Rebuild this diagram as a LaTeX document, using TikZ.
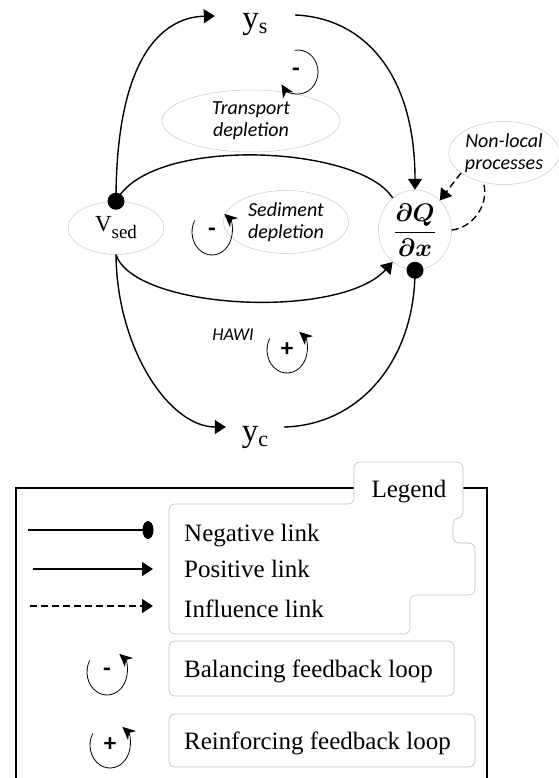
\documentclass[tikz,border=0pt]{standalone}
\usepackage{amsmath,bm,graphicx}
\usepackage{fontspec}
\setmainfont{Liberation Serif}
\newfontfamily\lblfont{Carlito}
\usetikzlibrary{arrows.meta,shapes.geometric}
\tikzset{
  bub/.style={ellipse, draw=black!22, line width=0.5pt, inner sep=0pt, align=center},
  lbltext/.style={font=\lblfont\itshape\fontsize{20}{22}\selectfont},
  link/.style={line width=1.4pt},
  poslink/.style={link, -{Triangle[length=11pt,width=14pt]}},
  infllink/.style={poslink, dash pattern=on 7pt off 4pt},
  dashlink/.style={link, dash pattern=on 7pt off 4pt},
  dotn/.style={circle, fill=black, inner sep=0pt, minimum size=17pt},
  loopline/.style={line width=0.8pt, -{Stealth[length=13pt,width=12pt,inset=4pt]}},
  sym/.style={font=\lblfont\bfseries\fontsize{25}{25}\selectfont, inner sep=0pt},
  legtext/.style={font=\fontsize{25}{28}\selectfont, inner sep=0pt},
  boxline/.style={draw=black!25, line width=0.6pt},
  frameline/.style={line width=1.3pt},
  loopccw/.pic={
    \draw[loopline] (-150:20 and 23) arc[start angle=-150, end angle=-412, x radius=20, y radius=23];
    \node[sym] (-s) at (0,0) {\tikzpictext};
  },
  loopcw/.pic={
    \draw[loopline] (-100:20 and 22) arc[start angle=-100, end angle=146, x radius=20, y radius=22];
    \node[sym] (-s) at (-2,0) {\tikzpictext};
  },
}
\begin{document}
\begin{tikzpicture}[x=1pt,y=-1pt]
\useasboundingbox (0,0) rectangle (558,778);
\clip (0,0) rectangle (558,778);

% variable nodes
\node[minimum width=80pt, font=\fontsize{33}{33}\selectfont, inner sep=0pt] (ys) at (255,24)
  {y\raisebox{-5pt}{\fontsize{22}{22}\selectfont s}};
\node[minimum width=58pt, font=\fontsize{33}{33}\selectfont, inner sep=0pt] (yc) at (255,437)
  {y\raisebox{-5pt}{\fontsize{22}{22}\selectfont c}};
\node[bub, minimum width=96pt, minimum height=53pt, font=\fontsize{23}{23}\selectfont] (vsed) at (116,228)
  {V\raisebox{-7pt}{\fontsize{19}{19}\selectfont sed}};
\node[bub, minimum width=73pt, minimum height=80pt] (dq) at (415,230)
  {\scalebox{1.22}{\fontsize{20}{20}\selectfont$\displaystyle\frac{\bm{\partial Q}}{\bm{\partial x}}$}};
\node[bub, lbltext, minimum width=101pt, minimum height=63pt] (nl) at (504,153) {Non-local\\processes};
\node[bub, lbltext, minimum width=178pt, minimum height=62pt] (tr) at (251,121) {Transport\\depletion};
\node[bub, lbltext, minimum width=125pt, minimum height=63pt] (sd) at (286,222) {Sediment\\depletion};
\node[lbltext, font=\lblfont\itshape\fontsize{18}{20}\selectfont] (hawi) at (233,335) {HAWI};

% links
\draw[poslink] (vsed.north) .. controls (116,45) and (170,17) .. ([yshift=8pt]ys.west);
\draw[poslink] ([yshift=9pt]ys.east) .. controls (365,18) and (415,75) .. (dq.north);
\draw[link] (dq.125) .. controls (360,145) and (150,135) .. (vsed.north);
\draw[poslink] (vsed.south) .. controls (135,310) and (340,320) .. (dq.235);
\draw[poslink] (vsed.south) .. controls (117,350) and (170,427) .. ([yshift=10pt]yc.west);
\draw[link] ([yshift=10pt]yc.east) .. controls (360,425) and (415,360) .. (dq.south);
\draw[infllink] (nl.205) -- (dq.50);
\draw[dashlink] (dq.east) .. controls (472,228) and (490,205) .. (nl.235);
\node[dotn] (dv) at (vsed.north) {};
\node[dotn] (dd) at (dq.south) {};

% loops
\pic[pic text={-}] (lt) at (298,72) {loopcw};
\pic[pic text={-}] (ls) at (212,232) {loopccw};
\pic[pic text={+}] (lh) at (287,350) {loopccw};

% legend
\draw[frameline] (16,800) -- (16,488) -- (487,488) -- (487,800);
\draw[boxline, fill=white, rounded corners=6pt] (169,504) -- (354,504) -- (354,462) -- (463,462) -- (463,518)
  -- (453,518) -- (453,543) -- (475,543) -- (475,595) -- (410,595) -- (410,634) -- (169,634) -- cycle;
\node[legtext, anchor=base] (leg) at (409,497) {Legend};
\coordinate (na) at (28,530); \coordinate (nb) at (148,530);
\draw[link] (na) -- (nb);
\node[ellipse, fill=black, inner sep=0pt, minimum width=11pt, minimum height=18pt] (ndot) at (nb) {};
\coordinate (pa) at (33,569); \coordinate (pb) at (153,569);
\draw[poslink] (pa) -- (pb);
\coordinate (ia) at (30,606); \coordinate (ib) at (153,606);
\draw[infllink] (ia) -- (ib);
\node[legtext, anchor=base west] (tneg) at (184,541) {Negative link};
\node[legtext, anchor=base west] (tpos) at (184,577) {Positive link};
\node[legtext, anchor=base west] (tinf) at (184,617) {Influence link};
\draw[boxline, rounded corners=6pt] (169,641) rectangle (454,696);
\draw[boxline, rounded corners=6pt] (169,714) rectangle (475,767);
\node[legtext, anchor=base west] (tbal) at (184,677) {Balancing feedback loop};
\node[legtext, anchor=base west] (trei) at (184,749) {Reinforcing feedback loop};
\pic[pic text={-}] (lb) at (107,672) {loopccw};
\pic[pic text={+}] (lr) at (110,745) {loopccw};
\end{tikzpicture}
\end{document}
